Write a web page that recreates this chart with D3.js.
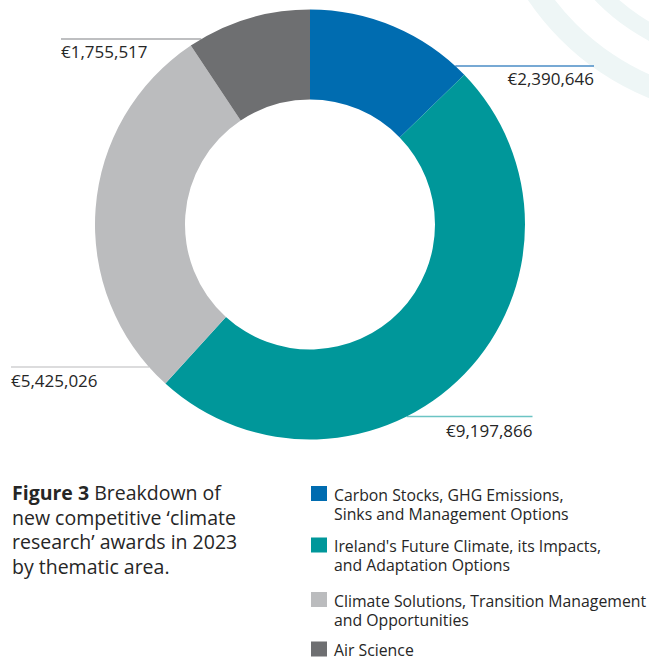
<!DOCTYPE html>
<html>
<head>
<meta charset="utf-8">
<script src="https://cdn.jsdelivr.net/npm/d3@7"></script>
<style>
  html, body { margin: 0; padding: 0; background: #ffffff; }
  svg { display: block; }
  text { font-family: "Open Sans", "Noto Sans", sans-serif; fill: #262626; }
</style>
</head>
<body>
<svg id="chart" width="649" height="657"></svg>
<script>
// ---- data ----
const categories = [
  "Carbon Stocks, GHG Emissions, Sinks and Management Options",
  "Ireland's Future Climate, its Impacts, and Adaptation Options",
  "Climate Solutions, Transition Management and Opportunities",
  "Air Science"
];
const legendLines = [
  ["Carbon Stocks, GHG Emissions,", "Sinks and Management Options"],
  ["Ireland's Future Climate, its Impacts,", "and Adaptation Options"],
  ["Climate Solutions, Transition Management", "and Opportunities"],
  ["Air Science"]
];
const values = [2390646, 9197866, 5425026, 1755517];
const colors = ["#006cb0", "#00979a", "#bbbcbe", "#6e6f71"];
const lineColors = ["#4a8cc6", "#6cc4c4", "#d0d1d2", "#a9aaac"];
const captionBold = "Figure 3";
const captionLines = [" Breakdown of", "new competitive \u2018climate", "research\u2019 awards in 2023", "by thematic area."];

// ---- layout ----
const W = 649, H = 657;
const cx = 310, cy = 224.5, R = 215, r0 = 125;
// label placement per slice: side, line y, text anchor x, text baseline
const labelLayout = [
  { side: "right", lineY: 66,    x: 594, baseY: 85 },
  { side: "right", lineY: 416.5, x: 532.5, baseY: 436.5 },
  { side: "left",  lineY: 367,   x: 11,  baseY: 386.5 },
  { side: "left",  lineY: 39,    x: 61,  baseY: 57.5 }
];

const svg = d3.select("#chart");

// faint decorative arcs (top right)
const deco = svg.append("g").attr("transform", "translate(750,-150)");
[[246, 268], [199, 216]].forEach(([a, b]) => {
  deco.append("path")
    .attr("d", d3.arc()({ innerRadius: a, outerRadius: b, startAngle: 0, endAngle: 2 * Math.PI }))
    .attr("fill", "#eef6f6");
});

const fmt = v => "\u20ac" + d3.format(",")(v);

// leader lines + labels
const gl = svg.append("g");
values.forEach((v, i) => {
  const L = labelLayout[i];
  const dy = L.lineY - cy;
  const half = Math.sqrt(Math.max(0, R * R - dy * dy));
  const arcX = L.side === "right" ? cx + half : cx - half;
  gl.append("line")
    .attr("x1", L.x).attr("x2", arcX)
    .attr("y1", L.lineY).attr("y2", L.lineY)
    .attr("stroke", lineColors[i]).attr("stroke-width", 1.5);
  gl.append("text")
    .attr("x", L.x).attr("y", L.baseY)
    .attr("text-anchor", L.side === "right" ? "end" : "start")
    .style("font-size", "17px")
    .text(fmt(v));
});

// donut
const pie = d3.pie().sort(null).value(d => d)(values);
const arc = d3.arc().innerRadius(r0).outerRadius(R);
svg.append("g").attr("transform", `translate(${cx},${cy})`)
  .selectAll("path").data(pie).join("path")
  .attr("d", arc)
  .attr("fill", (d, i) => colors[i]);

// caption (one text block, lines as tspans)
const cap = svg.append("text").attr("x", 12).attr("y", 500).style("font-size", "19.5px");
cap.append("tspan").attr("font-weight", "bold").text(captionBold);
cap.append("tspan").text(captionLines[0]);
captionLines.slice(1).forEach((t, k) => {
  cap.append("tspan").attr("x", 12).attr("y", 500 + 24.7 * (k + 1)).text(t);
});

// legend
const legendTops = [486, 537.5, 592, 641.5];
const lg = svg.append("g");
categories.forEach((c, i) => {
  const top = legendTops[i];
  lg.append("rect").attr("x", 311).attr("y", top).attr("width", 16).attr("height", 15)
    .attr("fill", colors[i]);
  const t = lg.append("text").attr("x", 334).attr("y", top + 14.5).style("font-size", "15.8px");
  legendLines[i].forEach((s, k) => {
    t.append("tspan").attr("x", 334).attr("y", top + 14.5 + 19.2 * k).text(s);
  });
});
</script>
</body>
</html>
